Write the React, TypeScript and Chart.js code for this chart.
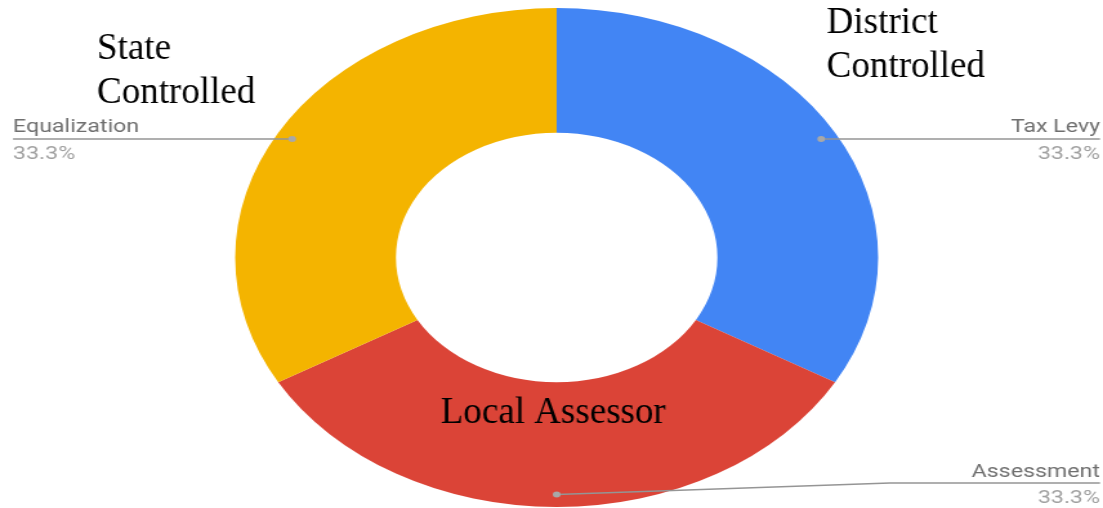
import { useEffect, useRef } from "react";
import { Chart, registerables } from "chart.js";

Chart.register(...registerables);

const categories = ["Tax Levy", "Assessment", "Equalization"];
const values = [1, 1, 1];
const sliceColors = ["#4285F4", "#DB4437", "#F4B400"];
const annotationTexts = [["District", "Controlled"], ["Local Assessor"], ["State", "Controlled"]];

const DISPLAY_W = 1103;
const DISPLAY_H = 508;
const INTERNAL_W = 856;
const K = DISPLAY_W / INTERNAL_W;

// display-space anchor for each annotation block: [x, firstBaseline, lineGap]
const annotationPlacement = [
  [826.7, 33, 43.5],
  [440.7, 423, 0],
  [97, 59, 44],
];

const labelsPlugin = {
  id: "sideLabels",
  afterDatasetsDraw(chart: any) {
    const ctx = chart.ctx as CanvasRenderingContext2D;
    const meta = chart.getDatasetMeta(0);
    const total = values.reduce((a, b) => a + b, 0);
    meta.data.forEach((arc: any, i: number) => {
      const p = arc.getProps(["x", "y", "startAngle", "endAngle", "outerRadius"], true);
      const mid = (p.startAngle + p.endAngle) / 2;
      const r = p.outerRadius * 0.95;
      const dx = p.x + Math.cos(mid) * r;
      const dy = p.y + Math.sin(mid) * r;
      const right = Math.cos(mid) >= -1e-6;
      const endX = right ? 1100 / K : 13 / K;
      const lineY = Math.min(dy, DISPLAY_H - 25);
      ctx.save();
      ctx.strokeStyle = "#959595";
      ctx.lineWidth = 1.7;
      ctx.beginPath();
      ctx.moveTo(dx, dy);
      if (Math.abs(lineY - dy) > 0.5) {
        const kneeX = endX + (right ? -163 : 163);
        ctx.lineTo(kneeX, lineY);
      }
      ctx.lineTo(endX, lineY);
      ctx.stroke();
      ctx.fillStyle = "#a8a8a8";
      ctx.beginPath();
      ctx.arc(dx, dy, 3, 0, Math.PI * 2);
      ctx.fill();
      ctx.font = '18px Roboto, "Noto Sans", sans-serif';
      ctx.textAlign = right ? "right" : "left";
      ctx.textBaseline = "alphabetic";
      ctx.fillStyle = "#6f6f6f";
      ctx.fillText(categories[i], endX, lineY - 6.5);
      ctx.fillStyle = "#a0a0a0";
      const pct = ((values[i] / total) * 100).toFixed(1) + "%";
      ctx.fillText(pct, endX, lineY + 20);
      ctx.restore();
    });

    ctx.save();
    ctx.scale(1 / K, 1);
    ctx.font = '37px "Liberation Serif", "Times New Roman", serif';
    ctx.fillStyle = "#000000";
    ctx.textAlign = "left";
    ctx.textBaseline = "alphabetic";
    annotationTexts.forEach((lines, i) => {
      const [x, y0, gap] = annotationPlacement[i];
      lines.forEach((t, j) => ctx.fillText(t, x, y0 + j * gap));
    });
    ctx.restore();
  },
};

export default function App() {
  const ref = useRef<HTMLCanvasElement>(null);
  useEffect(() => {
    if (!ref.current) return;
    const chart = new Chart(ref.current, {
      type: "doughnut",
      data: {
        labels: categories,
        datasets: [
          {
            data: values,
            backgroundColor: sliceColors,
            borderWidth: 0,
          },
        ],
      },
      options: {
        responsive: false,
        maintainAspectRatio: false,
        devicePixelRatio: 1,
        animation: false,
        cutout: "50%",
        layout: { padding: { left: 8, right: 0, top: 8, bottom: 1 } },
        plugins: {
          legend: { display: false },
          tooltip: { enabled: false },
        },
      },
      plugins: [labelsPlugin],
    });
    return () => chart.destroy();
  }, []);
  return (
    <div
      style={{
        position: "fixed",
        left: 0,
        top: 0,
        width: DISPLAY_W,
        height: DISPLAY_H,
        overflow: "hidden",
        background: "#ffffff",
      }}
    >
      <canvas
        ref={ref}
        width={INTERNAL_W}
        height={DISPLAY_H}
        style={{ width: DISPLAY_W + "px", height: DISPLAY_H + "px", display: "block" }}
      />
    </div>
  );
}
